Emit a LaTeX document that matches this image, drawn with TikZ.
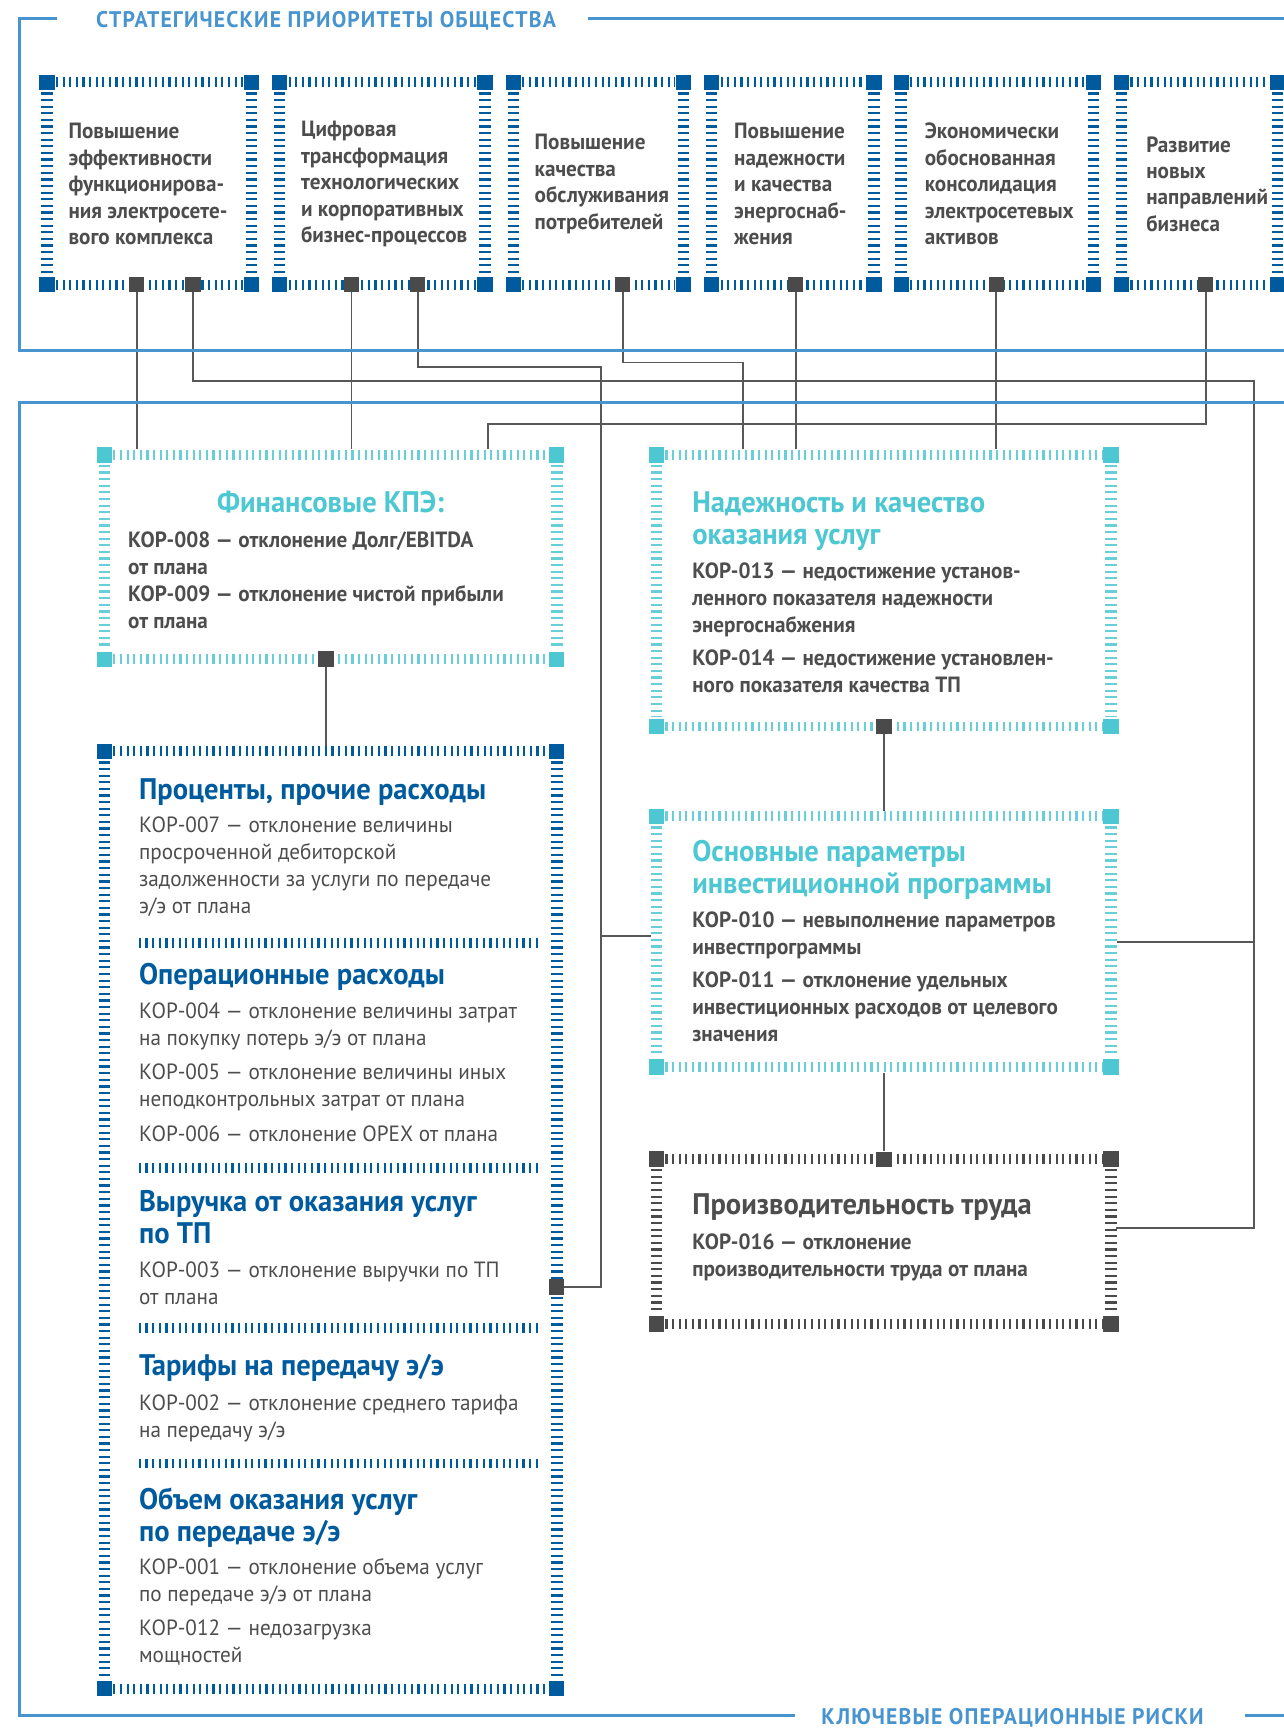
\documentclass[tikz,border=0pt]{standalone}
\usepackage{fontspec}
\setmainfont{PT Sans}[FakeStretch=0.96]
\usetikzlibrary{calc,fit}
\definecolor{ink}{RGB}{77,77,77}
\definecolor{wirec}{RGB}{88,88,88}
\definecolor{portgray}{RGB}{74,74,74}
\definecolor{framebl}{RGB}{72,148,206}
\definecolor{deepbl}{RGB}{0,91,158}
\definecolor{kpiteal}{RGB}{77,199,210}

% tick-mark border round a fitted box node: #1 name, #2 tick colour, #3 corner colour
\newcommand{\tickframe}[3]{%
  \draw[#2, hticks] ($(#1.north west)+(8,0)$) -- ($(#1.north east)+(-8,0)$);
  \draw[#2, hticks] ($(#1.south west)+(8,0)$) -- ($(#1.south east)+(-8,0)$);
  \draw[#2, vticks] ($(#1.north west)+(0,9)$) -- ($(#1.south west)+(0,-9)$);
  \draw[#2, vticks] ($(#1.north east)+(0,9)$) -- ($(#1.south east)+(0,-9)$);
  \foreach \corner in {north west,north east,south west,south east}
    \fill[#3] ($(#1.\corner)+(-7,-7)$) rectangle ++(14,14);
}

\begin{document}
\begin{tikzpicture}[
    x=1pt,y=-1pt,
    every node/.style={inner sep=0},
    hticks/.style={line width=9pt, dash pattern=on 2pt off 4pt},
    vticks/.style={line width=10.5pt, dash pattern=on 2pt off 4pt},
    boxfit/.style={inner sep=0, draw=none},
    port/.style={fill=portgray, minimum size=14pt, inner sep=0},
    wire/.style={draw=wirec, line width=1.6pt},
    into/.style={shorten >=5pt},
    frame/.style={draw=framebl, line width=2.6pt},
    head/.style={font=\bfseries\fontsize{20.5}{24}\selectfont\addfontfeatures{LetterSpace=5}, text=framebl, anchor=base west},
    ptext/.style={font=\bfseries\fontsize{20}{24}\selectfont, text=ink, align=left, anchor=west},
    ktitle/.style={font=\bfseries\fontsize{27}{29}\selectfont, align=left, anchor=north west},
    kbody/.style={font=\bfseries\fontsize{20}{24.5}\selectfont, text=ink, align=left, anchor=north west},
    kplain/.style={font=\fontsize{20}{24.5}\selectfont, text=ink, align=left, anchor=north west}
]
\useasboundingbox (0,0) rectangle (1165,1568);

% Strategic priorities
\node[boxfit, fit={(43,75) (228,258)}] (p1) {};
\node[boxfit, fit={(254,75) (440,258)}] (p2) {};
\node[boxfit, fit={(466,75) (620,258)}] (p3) {};
\node[boxfit, fit={(646,75) (793,258)}] (p4) {};
\node[boxfit, fit={(818,75) (992,258)}] (p5) {};
\node[boxfit, fit={(1018,75) (1159,258)}] (p6) {};
\foreach \b in {p1,p2,p3,p4,p5,p6}
  \tickframe{\b}{deepbl}{deepbl};

\node[ptext] (p1txt) at (62,167) {Повышение\\эффективности\\функционирова-\\ния электросете-\\вого комплекса};
\node[ptext] (p2txt) at (273,167) {Цифровая\\трансформация\\технологических\\и корпоративных\\бизнес-процессов};
\node[ptext] (p3txt) at (485,167) {Повышение\\качества\\обслуживания\\потребителей};
\node[ptext] (p4txt) at (666,167) {Повышение\\надежности\\и качества\\энергоснаб-\\жения};
\node[ptext] (p5txt) at (839,167) {Экономически\\обоснованная\\консолидация\\электросетевых\\активов};
\node[ptext] (p6txt) at (1040,167) {Развитие\\новых\\направлений\\бизнеса};

% Ports under the priorities
\node[port] (p1a) at (124,258) {};
\node[port] (p1b) at (175,258) {};
\node[port] (p2a) at (319,258) {};
\node[port] (p2b) at (379,258) {};
\node[port] (p3a) at (565,258) {};
\node[port] (p4a) at (722,258) {};
\node[port] (p5a) at (904,258) {};
\node[port] (p6a) at (1094,258) {};

% Key risk boxes
\node[boxfit, fit={(95,413) (505,598)}] (fin) {};
\node[boxfit, fit={(95,682) (505,1532)}] (cost) {};
\node[boxfit, fit={(596,413) (1008,659)}] (rel) {};
\node[boxfit, fit={(596,741) (1008,968)}] (inv) {};
\node[boxfit, fit={(596,1052) (1008,1201)}] (prod) {};
\tickframe{fin}{kpiteal!85}{kpiteal}
\tickframe{rel}{kpiteal!85}{kpiteal}
\tickframe{inv}{kpiteal!85}{kpiteal}
\tickframe{cost}{deepbl}{deepbl}
\tickframe{prod}{portgray}{portgray}

% Separators in the cost box
\foreach \y in {856,1060,1205,1328}
  \draw[deepbl, hticks] (126,\y) -- (490,\y);

% Financial KPI
\node[ktitle, text=kpiteal, anchor=north] (fintitle) at (300,445) {Финансовые КПЭ:};
\node[kbody] (finbody) at (116,482) {КОР-008 — отклонение Долг/EBITDA\\от плана\\КОР-009 — отклонение чистой прибыли\\от плана};

% Cost sections
\node[ktitle, text=deepbl] (c1title) at (126,706) {Проценты, прочие расходы};
\node[kplain] (c1body) at (126,741) {КОР-007 — отклонение величины\\просроченной дебиторской\\задолженности за услуги по передаче\\э/э от плана};
\node[ktitle, text=deepbl] (c2title) at (126,874) {Операционные расходы};
\node[kplain] (c2body) at (126,910) {КОР-004 — отклонение величины затрат\\на покупку потерь э/э от плана\\[6.5pt]КОР-005 — отклонение величины иных\\неподконтрольных затрат от плана\\[6.5pt]КОР-006 — отклонение OPEX от плана};
\node[ktitle, text=deepbl] (c3title) at (126,1080) {Выручка от оказания услуг\\по ТП};
\node[kplain] (c3body) at (126,1145) {КОР-003 — отклонение выручки по ТП\\от плана};
\node[ktitle, text=deepbl] (c4title) at (126,1229) {Тарифы на передачу э/э};
\node[kplain] (c4body) at (126,1265) {КОР-002 — отклонение среднего тарифа\\на передачу э/э};
\node[ktitle, text=deepbl] (c5title) at (126,1350) {Объем оказания услуг\\по передаче э/э};
\node[kplain] (c5body) at (126,1414) {КОР-001 — отклонение объема услуг\\по передаче э/э от плана\\[6.5pt]КОР-012 — недозагрузка\\мощностей};

% Reliability
\node[ktitle, text=kpiteal] (reltitle) at (628,446) {Надежность и качество\\оказания услуг};
\node[kbody] (relbody) at (628,510) {КОР-013 — недостижение установ-\\ленного показателя надежности\\энергоснабжения\\[6pt]КОР-014 — недостижение установлен-\\ного показателя качества ТП};

% Investment programme
\node[ktitle, text=kpiteal] (invtitle) at (628,762) {Основные параметры\\инвестиционной программы};
\node[kbody] (invbody) at (628,827) {КОР-010 — невыполнение параметров\\инвестпрограммы\\[6pt]КОР-011 — отклонение удельных\\инвестиционных расходов от целевого\\значения};

% Labour productivity
\node[ktitle, text=ink] (prodtitle) at (628,1083) {Производительность труда};
\node[kbody] (prodbody) at (628,1119) {КОР-016 — отклонение\\производительности труда от плана};

% Ports on the risk boxes
\node[port] (finport) at (296,598) {};
\node[port] (relport) at (802,659) {};
\node[port] (prodport) at (802,1052) {};
\node[port] (costport) at (505,1168) {};

% Bends and side entries
\coordinate (busL) at (545,333);
\coordinate (busM) at (674,329);
\coordinate (busR) at (1138,346);
\coordinate (busF) at (443,385);
\coordinate (invL) at (596,849);
\coordinate (prodR) at (1008,1114);

% Connectors
\draw[wire, into] (p1a) -- (p1a |- fin.north);
\draw[wire, into] (p2a) -- (p2a |- fin.north);
\draw[wire, into] (p6a) |- (busF) -- (busF |- fin.north);
\draw[wire, into] (p1b) |- (busR) |- (prodR);
\draw[wire, into] (busR |- inv.east) -- (inv.east);
\draw[wire] (p2b) |- (busL) |- (costport);
\draw[wire, into] (busL |- invL) -- (invL);
\draw[wire, into] (p3a) |- (busM) -- (busM |- rel.north);
\draw[wire, into] (p4a) -- (p4a |- rel.north);
\draw[wire, into] (p5a) -- (p5a |- rel.north);
\draw[wire, into] (finport) -- (finport |- cost.north);
\draw[wire, into] (relport) -- (relport |- inv.north);
\draw[wire, into] (prodport) -- (prodport |- inv.south);

% Frames
\node[head] (toptitle) at (87,25) {СТРАТЕГИЧЕСКИЕ ПРИОРИТЕТЫ ОБЩЕСТВА};
\node[head] (bottitle) at (745,1565) {КЛЮЧЕВЫЕ ОПЕРАЦИОННЫЕ РИСКИ};
\draw[frame] (52,16.6) -- (18,16.6) -- (18,318) -- (1170,318);
\draw[frame] (534,16.6) -- (1170,16.6);
\draw[frame] (1170,365) -- (18,365) -- (18,1557) -- (721,1557);
\draw[frame] (1130,1557) -- (1170,1557);

\end{tikzpicture}
\end{document}
